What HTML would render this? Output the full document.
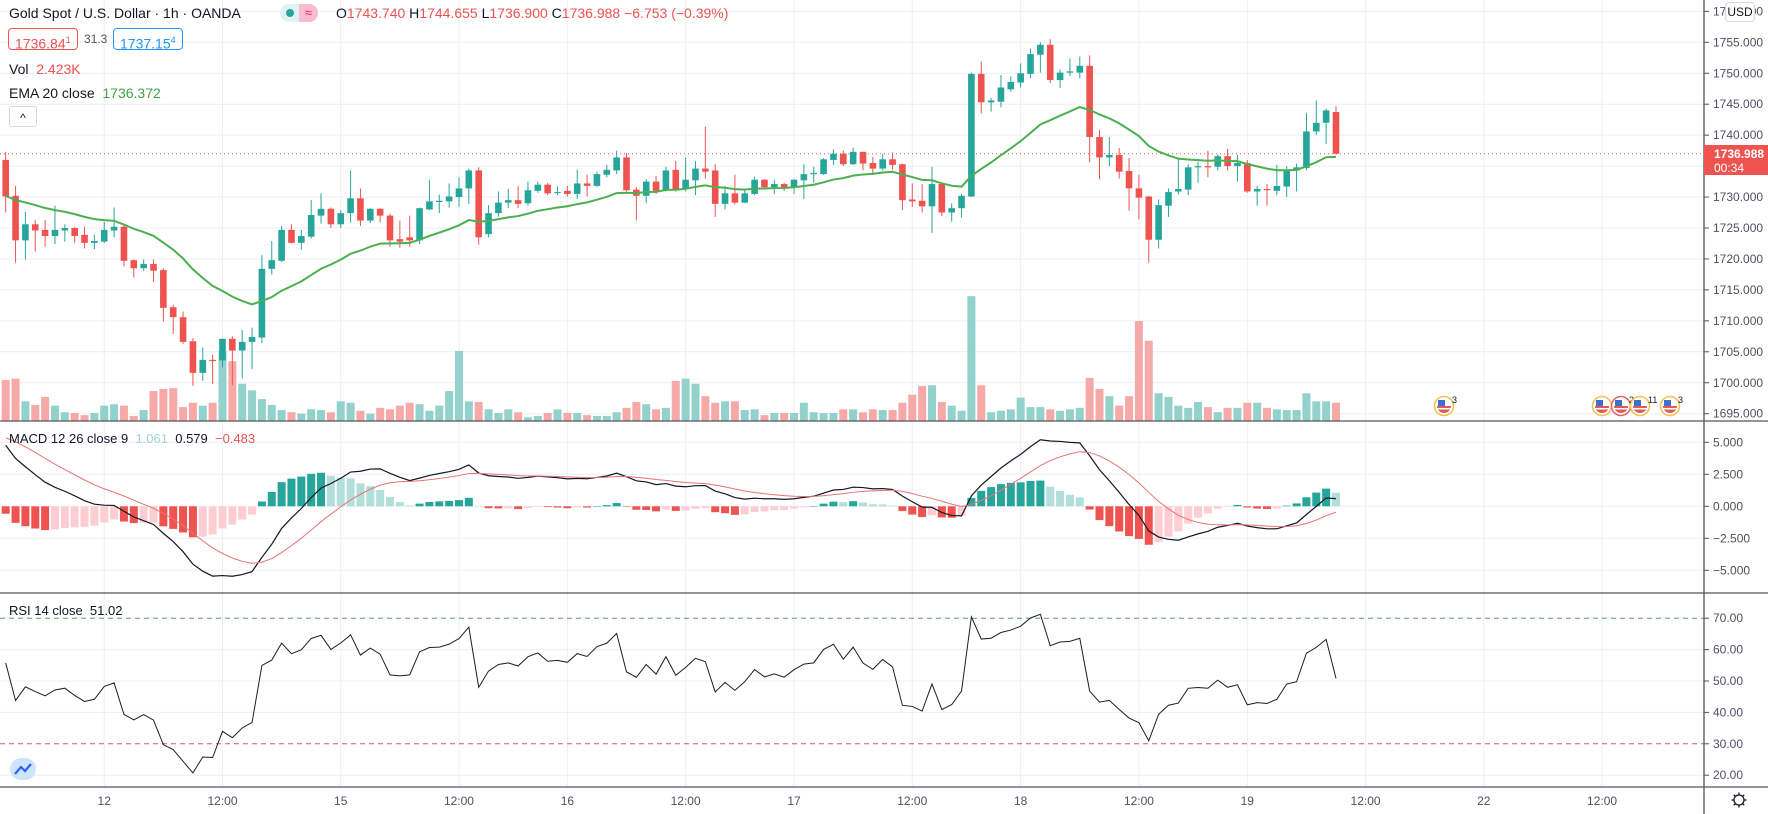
<!DOCTYPE html>
<html><head><meta charset="utf-8"><style>
html,body{margin:0;padding:0;background:#fff;}
body{width:1768px;height:814px;overflow:hidden;position:relative;font-family:"Liberation Sans",sans-serif;color:#131722;}
#chart{position:absolute;left:0;top:0;}
.lg{position:absolute;font-size:14px;white-space:nowrap;color:#131722;}
.red{color:#ef5350;}
.box{position:absolute;border:1px solid;border-radius:4px;font-size:14px;height:22px;line-height:22px;padding:0 6px;box-sizing:border-box;}
</style></head><body>
<svg id="chart" width="1768" height="814"></svg>

<div class="lg" style="left:9px;top:5px;">Gold Spot / U.S. Dollar · 1h · OANDA</div>
<div style="position:absolute;left:280px;top:4px;width:38px;height:18px;border-radius:9px;background:#e0f2f1;overflow:hidden;">
  <div style="position:absolute;left:6px;top:5px;width:8px;height:8px;border-radius:4px;background:#26a69a;"></div>
  <div style="position:absolute;left:19px;top:0;width:19px;height:18px;background:#f8bbd0;color:#e91e63;font-size:13px;line-height:18px;text-align:center;">≈</div>
</div>
<div class="lg" style="left:336px;top:5px;">O<span class="red">1743.740</span> H<span class="red">1744.655</span> L<span class="red">1736.900</span> C<span class="red">1736.988</span> <span class="red">−6.753 (−0.39%)</span></div>
<div class="box" style="left:8px;top:28px;border-color:#ef5350;color:#ef5350;">1736.84<sup style="font-size:9px">1</sup></div>
<div class="lg" style="left:84px;top:32px;font-size:12px;color:#555;">31.3</div>
<div class="box" style="left:113px;top:28px;border-color:#2196f3;color:#2196f3;">1737.15<sup style="font-size:9px">4</sup></div>
<div class="lg" style="left:9px;top:61px;">Vol&nbsp; <span class="red">2.423K</span></div>
<div class="lg" style="left:9px;top:85px;">EMA 20 close&nbsp; <span style="color:#43a047">1736.372</span></div>
<div style="position:absolute;left:9px;top:106px;width:28px;height:21px;border:1px solid #d6d9e0;border-radius:3px;box-sizing:border-box;text-align:center;font-size:12px;line-height:22px;">^</div>
<div class="lg" style="left:9px;top:431px;font-size:13px;">MACD 12 26 close 9&nbsp; <span style="color:#9fd6d0">1.061</span>&nbsp; <span>0.579</span>&nbsp; <span class="red">−0.483</span></div>
<div class="lg" style="left:9px;top:603px;font-size:13px;">RSI 14 close&nbsp; 51.02</div>
<div style="position:absolute;left:1725px;top:2px;width:28px;height:18px;background:#fff;border:1px solid #d6d9e0;border-radius:4px;font-size:12px;line-height:18px;text-align:center;">USD</div>

<script>
const opens=[1736.0,1730.2,1723.0,1725.6,1724.7,1723.7,1724.6,1725.0,1723.9,1722.6,1722.8,1724.6,1725.2,1719.8,1718.5,1719.2,1718.2,1712.2,1710.6,1706.7,1701.6,1703.7,1703.6,1707.1,1705.2,1706.6,1707.3,1718.4,1719.7,1724.7,1722.6,1723.6,1727.0,1728.1,1725.6,1727.4,1729.8,1726.2,1728.1,1727.0,1723.2,1723.5,1723.0,1728.0,1729.2,1729.3,1730.0,1731.4,1734.3,1724.0,1727.4,1729.1,1729.5,1729.0,1731.0,1732.0,1730.7,1731.0,1730.5,1732.2,1731.8,1733.6,1734.3,1736.4,1731.2,1730.2,1732.5,1731.1,1734.4,1731.3,1732.7,1734.6,1734.3,1728.9,1730.6,1729.1,1730.5,1732.8,1731.6,1732.1,1731.6,1732.7,1733.7,1733.7,1736.0,1737.0,1735.3,1737.3,1735.5,1734.6,1736.1,1735.3,1729.6,1729.4,1728.5,1732.1,1727.5,1728.2,1730.1,1749.9,1745.3,1745.4,1747.4,1748.5,1749.9,1753.0,1754.6,1748.9,1750.1,1750.1,1751.2,1739.7,1736.4,1736.8,1734.2,1731.4,1730.1,1723.1,1728.6,1730.9,1731.2,1734.8,1735.0,1734.9,1736.6,1735.0,1735.5,1730.9,1731.3,1731.0,1731.7,1734.3,1734.7,1740.6,1742.0,1743.74];
const highs=[1737.3,1731.8,1727.6,1726.3,1726.3,1728.6,1725.6,1725.2,1725.2,1723.9,1726.0,1728.3,1725.5,1719.9,1719.9,1719.9,1718.5,1712.6,1711.5,1707.2,1705.7,1704.5,1707.1,1707.5,1708.5,1708.9,1720.6,1722.9,1725.3,1725.6,1724.7,1729.5,1730.6,1728.3,1727.9,1734.3,1731.4,1728.2,1728.2,1727.3,1726.2,1727.0,1728.3,1732.8,1730.4,1732.2,1733.2,1734.6,1734.8,1728.7,1730.9,1731.3,1731.8,1732.5,1732.5,1732.3,1731.7,1731.8,1734.4,1733.6,1734.1,1735.2,1737.5,1737.1,1731.6,1732.9,1733.4,1734.9,1735.8,1736.4,1735.8,1741.4,1735.3,1731.8,1733.6,1731.3,1733.3,1732.9,1732.8,1732.3,1732.9,1735.3,1734.9,1736.3,1737.7,1737.5,1738.0,1737.3,1736.5,1737.0,1737.2,1735.4,1732.2,1732.1,1734.9,1732.3,1729.0,1730.5,1750.1,1751.9,1746.0,1749.7,1749.5,1751.6,1754.0,1755.0,1755.5,1750.6,1752.4,1752.7,1752.9,1740.9,1739.7,1737.9,1736.3,1733.6,1730.2,1729.6,1731.4,1736.1,1735.3,1735.7,1737.5,1736.9,1737.8,1736.8,1736.0,1731.8,1732.1,1735.2,1735.0,1735.4,1743.6,1745.6,1744.3,1744.655];
const lows=[1727.5,1719.4,1719.9,1721.2,1722.0,1722.4,1722.8,1722.6,1721.7,1721.6,1722.6,1723.5,1718.8,1717.0,1718.1,1716.3,1709.9,1707.9,1706.3,1699.5,1700.3,1699.8,1702.5,1699.6,1700.7,1702.2,1706.4,1717.5,1719.5,1722.5,1721.5,1723.3,1725.7,1725.0,1725.0,1725.9,1725.3,1725.8,1725.9,1722.0,1721.8,1722.0,1722.4,1727.9,1727.4,1728.3,1728.4,1728.9,1722.3,1723.5,1726.8,1728.2,1728.2,1728.6,1730.7,1730.3,1730.3,1730.1,1729.7,1730.1,1731.6,1733.2,1733.7,1730.9,1726.2,1729.0,1730.5,1730.9,1730.9,1730.9,1730.3,1733.0,1726.8,1728.0,1728.8,1729.0,1730.3,1731.2,1730.5,1731.0,1730.5,1729.7,1732.3,1733.6,1735.2,1735.0,1735.2,1734.3,1733.7,1734.3,1734.4,1727.9,1728.4,1727.5,1724.2,1726.9,1726.0,1726.7,1730.0,1743.5,1743.8,1744.5,1747.0,1747.7,1749.2,1750.1,1748.4,1747.6,1749.6,1749.2,1735.6,1732.9,1735.0,1733.0,1727.8,1726.4,1719.4,1721.7,1726.8,1730.4,1730.3,1732.3,1733.2,1734.3,1734.3,1732.5,1730.7,1728.6,1728.6,1730.3,1730.0,1730.9,1734.3,1740.0,1738.6,1736.9];
const closes=[1730.1,1723.0,1725.6,1724.6,1723.7,1724.7,1725.0,1723.7,1722.6,1722.9,1724.7,1725.2,1719.7,1718.5,1719.2,1718.1,1712.1,1710.6,1706.6,1701.6,1703.7,1703.5,1707.1,1705.2,1706.6,1707.4,1718.4,1719.8,1724.7,1722.6,1723.7,1727.1,1728.1,1725.6,1727.4,1729.8,1726.2,1728.1,1727.0,1723.0,1722.8,1723.0,1728.2,1729.3,1729.4,1730.1,1731.4,1734.3,1723.5,1727.4,1729.1,1729.5,1728.9,1731.1,1732.0,1730.6,1730.8,1730.5,1732.2,1731.8,1733.7,1734.4,1736.4,1731.1,1730.2,1732.5,1731.0,1734.3,1731.3,1732.8,1734.6,1734.1,1728.9,1730.6,1729.1,1730.6,1732.8,1731.6,1732.1,1731.6,1732.8,1733.7,1733.9,1736.1,1737.0,1735.3,1737.3,1735.4,1734.6,1736.1,1735.2,1729.5,1729.3,1728.5,1732.1,1727.5,1728.2,1730.2,1749.9,1745.3,1745.6,1747.7,1748.6,1750.0,1753.1,1754.6,1748.9,1750.1,1750.3,1751.2,1739.7,1736.4,1736.8,1734.1,1731.4,1729.9,1723.1,1728.7,1730.8,1731.3,1734.8,1735.0,1734.8,1736.6,1735.0,1735.5,1730.9,1731.3,1731.1,1731.8,1734.4,1734.8,1740.6,1742.0,1744.0,1736.988];
const volumesK=[5.6,5.8,2.7,2.2,3.3,2.1,1.2,1.1,0.8,1.1,2.1,2.3,2.1,0.7,1.5,4.1,4.4,4.5,1.9,2.5,2.1,2.5,9.6,8.2,5.1,4.2,3.0,2.2,1.5,1.2,1.0,1.6,1.5,1.2,2.7,2.5,1.4,1.0,1.8,1.6,2.1,2.5,2.3,1.4,2.1,4.1,9.6,2.7,
2.6,1.6,1.1,1.6,1.2,0.5,0.7,1.1,1.6,1.1,1.1,0.8,0.7,0.7,1.2,1.8,2.6,2.3,1.6,1.8,5.5,5.8,5.1,3.4,2.5,2.7,2.7,1.5,1.6,0.8,1.1,1.1,1.1,2.5,1.2,1.1,1.1,1.6,1.6,1.2,1.6,1.5,1.5,2.5,3.6,4.8,4.9,2.6,2.1,1.4,17.1,
4.9,1.2,1.4,1.6,3.2,1.9,1.9,1.6,1.4,1.6,1.8,5.9,4.4,3.4,2.1,3.4,13.7,11.0,3.8,3.3,2.1,1.8,2.6,1.9,1.2,1.8,1.8,2.5,2.5,1.8,1.6,1.5,1.5,3.8,2.7,2.7,2.5];
const timeTickIdx=[10,22,34,46,57,69,80,92,103,115,126,138,150,162];
const timeTickLabels=["12","12:00","15","12:00","16","12:00","17","12:00","18","12:00","19","12:00","22","12:00"];
const priceTicks=[1760,1755,1750,1745,1740,1735,1730,1725,1720,1715,1710,1705,1700,1695];
const macdTicks=[5,2.5,0,-2.5,-5];
const macdTickLabels=["5.000","2.500","0.000","−2.500","−5.000"];
const rsiTicks=[70,60,50,40,30,20];
const rsiTickLabels=["70.00","60.00","50.00","40.00","30.00","20.00"];
const emaSeed=1730.2, ema12Seed=1731.8, ema26Seed=1726.5, signalSeed=5.5, rsiGainSeed=1.2, rsiLossSeed=0.5;

const NS="http://www.w3.org/2000/svg";
const svg=document.getElementById('chart');
const X0=5.7, DX=9.854, PLOT_R=1704;
function xAt(i){return X0+DX*i;}
function yP(p){return 42.3+(1755-p)*6.19;}
function yV(k){return 421-k*7.3;}
function yM(v){return 506.3-v*12.8;}
function yR(v){return 681-(v-50)*3.14;}
function mk(tag,attrs,parent){const e=document.createElementNS(NS,tag);for(const k in attrs)e.setAttribute(k,attrs[k]);(parent||svg).appendChild(e);return e;}
const UP="#26a69a", DN="#ef5350";

const grid=mk('g',{});


timeTickIdx.forEach(i=>{mk('line',{x1:xAt(i),x2:xAt(i),y1:0,y2:787,stroke:"#eceff4","stroke-width":1},grid);});
priceTicks.forEach(p=>{mk('line',{x1:0,x2:PLOT_R,y1:yP(p),y2:yP(p),stroke:"#eceff4"},grid);});
macdTicks.forEach(v=>{mk('line',{x1:0,x2:PLOT_R,y1:yM(v),y2:yM(v),stroke:"#eceff4"},grid);});
rsiTicks.forEach(v=>{if(v!==70&&v!==30)mk('line',{x1:0,x2:PLOT_R,y1:yR(v),y2:yR(v),stroke:"#eceff4"},grid);});

const defs=mk('defs',{});
const cp=mk('clipPath',{id:'mainclip'},defs);
mk('rect',{x:0,y:0,width:PLOT_R,height:421},cp);

const vg=mk('g',{'clip-path':'url(#mainclip)'});


volumesK.forEach((v,i)=>{
  const up=closes[i]>=opens[i];
  const r=mk('rect',{x:xAt(i)-4,y:yV(v),width:8,height:421-yV(v),fill:up?"#93d2cc":"#f7a9a7"},vg);
  
  
});

const pl=mk('line',{x1:0,x2:PLOT_R,y1:yP(closes[closes.length-1]),y2:yP(closes[closes.length-1]),stroke:"#ef5350","stroke-dasharray":"1 3","stroke-width":1});



const cg=mk('g',{'clip-path':'url(#mainclip)'});


opens.forEach((o,i)=>{
  const c=closes[i],up=c>=o,col=up?UP:DN,x=xAt(i);
  const g=mk('g',{},cg);
  
  
  mk('line',{x1:x,x2:x,y1:yP(highs[i]),y2:yP(lows[i]),stroke:col,"stroke-width":1},g);
  const t=yP(Math.max(o,c)),b=yP(Math.min(o,c));
  mk('rect',{x:x-3.3,y:t,width:6.6,height:Math.max(1,b-t),fill:col},g);
});

let ema=emaSeed; const emaVals=[];
closes.forEach(c=>{ema=ema+(c-ema)*2/21;emaVals.push(ema);});
const emaLine=mk('polyline',{points:emaVals.map((v,i)=>xAt(i)+","+yP(v)).join(" "),fill:"none",stroke:"#4caf50","stroke-width":2});



let e12=ema12Seed,e26=ema26Seed,sig=signalSeed;const macdV=[],sigV=[],histV=[];
closes.forEach(c=>{e12+=(c-e12)*2/13;e26+=(c-e26)*2/27;const m=e12-e26;sig+=(m-sig)*2/10;macdV.push(m);sigV.push(sig);histV.push(m-sig);});
const hg=mk('g',{});


histV.forEach((h,i)=>{
  const prev=i>0?histV[i-1]:h;
  let col;
  if(h>=0)col=h>=prev?"#26a69a":"#b2dfdb"; else col=h<=prev?"#ef5350":"#ffcdd2";
  const y0=yM(0),y1=yM(h);
  const r=mk('rect',{x:xAt(i)-4,y:Math.min(y0,y1),width:8,height:Math.max(0.5,Math.abs(y1-y0)),fill:col},hg);
  
  
});
const ml=mk('polyline',{points:macdV.map((v,i)=>xAt(i)+","+yM(v)).join(" "),fill:"none",stroke:"#131722","stroke-width":1.2});


const sl=mk('polyline',{points:sigV.map((v,i)=>xAt(i)+","+yM(v)).join(" "),fill:"none",stroke:"#e57373","stroke-width":1});



let ag=rsiGainSeed,al=rsiLossSeed,prevC=opens[0];const rsiV=[];
closes.forEach(c=>{const d=c-prevC;prevC=c;ag=(ag*13+Math.max(d,0))/14;al=(al*13+Math.max(-d,0))/14;rsiV.push(100-100/(1+ag/al));});
const b70=mk('line',{x1:0,x2:PLOT_R,y1:yR(70),y2:yR(70),stroke:"#5b9c6b","stroke-dasharray":"5 4"});


const b30=mk('line',{x1:0,x2:PLOT_R,y1:yR(30),y2:yR(30),stroke:"#c46161","stroke-dasharray":"5 4"});


const rl=mk('polyline',{points:rsiV.map((v,i)=>xAt(i)+","+yR(v)).join(" "),fill:"none",stroke:"#1e1e1e","stroke-width":1});



[421,593,787].forEach(y=>{const l=mk('line',{x1:0,x2:1768,y1:y,y2:y,stroke:"#50535e","stroke-width":1.3});

});
const ax=mk('line',{x1:PLOT_R,x2:PLOT_R,y1:0,y2:814,stroke:"#50535e","stroke-width":1.3});



function axisLabel(y,txt,name){
  mk('line',{x1:PLOT_R,x2:PLOT_R+5,y1:y,y2:y,stroke:"#50535e"});
  const t=mk('text',{x:1713,y:y+4,"font-size":"12","font-family":"Liberation Sans, sans-serif",fill:"#4c525e"});
  t.textContent=txt;
  
  
}
priceTicks.forEach(p=>{if(yP(p)<418)axisLabel(yP(p),p.toFixed(3),'price-tick-label');});
macdTicks.forEach((v,k)=>axisLabel(yM(v),macdTickLabels[k],'macd-tick-label'));
rsiTicks.forEach((v,k)=>axisLabel(yR(v),rsiTickLabels[k],'rsi-tick-label'));
timeTickIdx.forEach((i,k)=>{
  const t=mk('text',{x:xAt(i),y:805,"font-size":"12","text-anchor":"middle","font-family":"Liberation Sans, sans-serif",fill:"#4c525e"});
  t.textContent=timeTickLabels[k];
  
  
});

const lp=mk('g',{});


mk('rect',{x:PLOT_R,y:145,width:64,height:30,fill:"#ef5350"},lp);
const lt1=mk('text',{x:1714,y:158,"font-size":"12","font-weight":"bold",fill:"#fff","font-family":"Liberation Sans, sans-serif"},lp);lt1.textContent=closes[closes.length-1].toFixed(3);
const lt2=mk('text',{x:1714,y:172,"font-size":"12",fill:"#fff","font-family":"Liberation Sans, sans-serif"},lp);lt2.textContent="00:34";

const evX=[1444,1602,1621,1640,1670], evN=["3","","2","11","3"], evRing=["#f2c14e","#f2c14e","#e06666","#f2c14e","#f2c14e"];
evX.forEach((x,k)=>{
  const g=mk('g',{});
  
  
  mk('circle',{cx:x,cy:406,r:9.5,fill:"#fff",stroke:evRing[k],"stroke-width":1.5},g);
  mk('path',{d:`M${x-7} 406 A7 7 0 0 0 ${x+7} 406 Z`,fill:"#e05a5a"},g);
  mk('rect',{x:x-7,y:408,width:14,height:1.5,fill:"#fff"},g);
  mk('rect',{x:x-6,y:400,width:7,height:6,fill:"#3f6fc9"},g);
  if(evN[k]){const t=mk('text',{x:x+8,y:403,"font-size":"9",fill:"#131722","font-family":"Liberation Sans, sans-serif"},g);t.textContent=evN[k];}
});

const gear=mk('g',{});


mk('circle',{cx:1739,cy:800,r:5,fill:"none",stroke:"#131722","stroke-width":1.3},gear);
for(let a=0;a<8;a++){const r=a*Math.PI/4;mk('line',{x1:1739+Math.cos(r)*5,y1:800+Math.sin(r)*5,x2:1739+Math.cos(r)*7.5,y2:800+Math.sin(r)*7.5,stroke:"#131722","stroke-width":1.3},gear);}

const logo=mk('g',{});


mk('rect',{x:10,y:758,width:26,height:22,rx:11,fill:"#cfe3fb"},logo);
mk('path',{d:"M15 774 L21 767 L25 771 L31 764",fill:"none",stroke:"#2962ff","stroke-width":2.2},logo);
</script>
</body></html>
